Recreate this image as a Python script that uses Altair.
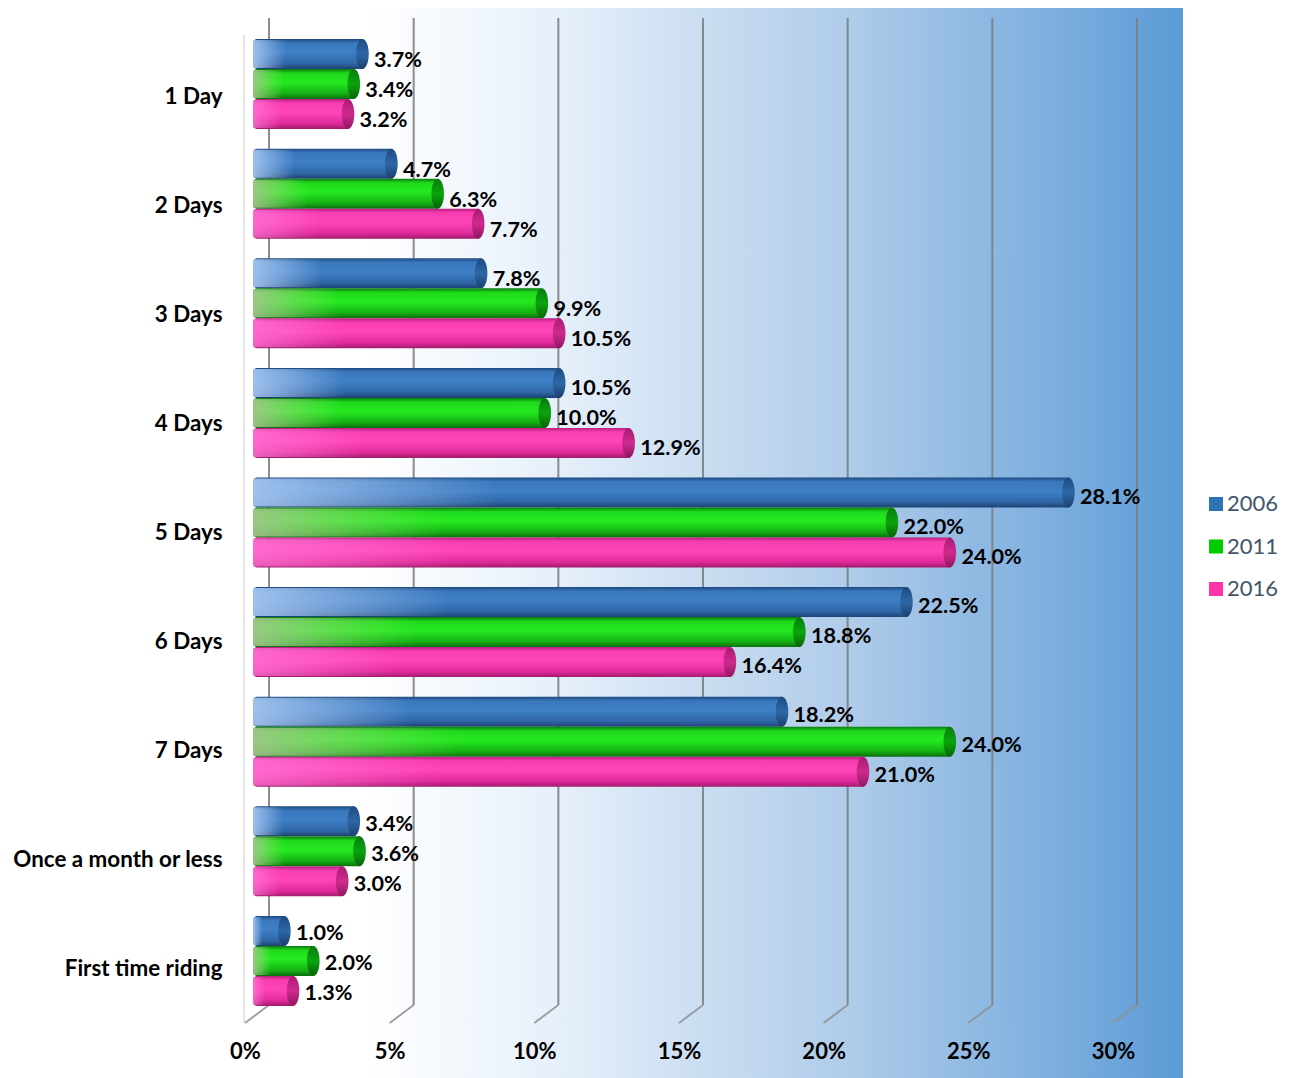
import altair as alt
import pandas as pd

categories = ["1 Day", "2 Days", "3 Days", "4 Days", "5 Days", "6 Days", "7 Days",
              "Once a month or less", "First time riding"]
series = ["2006", "2011", "2016"]
v2006 = [3.7, 4.7, 7.8, 10.5, 28.1, 22.5, 18.2, 3.4, 1.0]
v2011 = [3.4, 6.3, 9.9, 10.0, 22.0, 18.8, 24.0, 3.6, 2.0]
v2016 = [3.2, 7.7, 10.5, 12.9, 24.0, 16.4, 21.0, 3.0, 1.3]
ticks = [0, 5, 10, 15, 20, 25, 30]
legend_colors = ["#2e75b6", "#00cc00", "#ff33aa"]

FONT = "Lato"
DEPTH = 0.83      # perspective shift of the back wall, in axis units
BAR_START = 0.28
CAP_C = 0.36      # cap centre relative to value
LABEL_X = 0.57

rows = []
for s, vals in zip(series, [v2006, v2011, v2016]):
    for c, v in zip(categories, vals):
        rows.append({"cat": c, "series": s, "value": v, "start": BAR_START,
                     "end": v + CAP_C, "lab": v + LABEL_X, "text": f"{v:.1f}%"})
df = pd.DataFrame(rows)
grid = pd.DataFrame({"tick": ticks, "back": [t + DEPTH for t in ticks]})
one = pd.DataFrame({"a": [0]})
cats = pd.DataFrame({"cat": categories})


def lg(stops, horizontal=False):
    return alt.LinearGradient(
        gradient="linear",
        x1=0, y1=0, x2=1 if horizontal else 0, y2=0 if horizontal else 1,
        stops=[alt.GradientStop(offset=o, color=c) for o, c in stops],
    )


PW, PH = 938, 1070
x_scale = alt.Scale(domain=[0, 32.42], nice=False, zero=False)
y_scale = alt.Scale(domain=categories, range=[21.2, 1007.8], paddingInner=0.179, paddingOuter=0.0895)
label_scale = alt.Scale(domain=categories, range=[27.44, 1009.56], paddingInner=0.175, paddingOuter=0.0875)
cat_scale = alt.Scale(domain=categories, range=[33.5, 1014.5], paddingInner=0, paddingOuter=0)
off_scale = alt.Scale(domain=series, paddingInner=0, paddingOuter=0)

x_axis = alt.Axis(values=ticks, labelExpr="datum.value + '%'", title=None, grid=False, ticks=False,
                  domain=False, labelFont=FONT, labelFontWeight="bold", labelFontSize=22,
                  labelColor="#000000", labelPadding=0, labelFlush=False, offset=-37, zindex=2)
y_axis = alt.Axis(title=None, ticks=False, domain=False, labelFont=FONT, labelFontWeight="bold",
                  labelFontSize=22.4, labelColor="#000000", labelPadding=23,
                  labelLimit=300, zindex=2)

bg = alt.Chart(one).mark_rect(
    fill=lg([(0, "#ffffff"), (0.13, "#ffffff"), (0.33, "#e6f0fa"), (0.65, "#aecbe9"),
             (0.85, "#7fb0df"), (1, "#5b9bd5")], True)
).encode(x=alt.value(0), x2=alt.value(PW), y=alt.value(0), y2=alt.value(PH))

left_line = alt.Chart(one).mark_rule(color="#dcdcdc", strokeWidth=1.5).encode(
    x=alt.value(-1), y=alt.value(27), y2=alt.value(1015))

walls = alt.Chart(grid).mark_rule(color="#808080", strokeWidth=2, opacity=0.9).encode(
    x=alt.X("back:Q", scale=x_scale, axis=x_axis), y=alt.value(10), y2=alt.value(997))
floor = alt.Chart(grid).mark_rule(color="#909090", strokeWidth=2, opacity=0.85).encode(
    x=alt.X("tick:Q", scale=x_scale, axis=x_axis), x2="back:Q", y=alt.value(1015), y2=alt.value(997))

styles = {
    "2006": dict(
        body=[(0, "#1d4a80"), (0.14, "#3a78bd"), (0.45, "#3f7fc6"), (0.82, "#2f66a6"), (1, "#1d4272")],
        sheen=[(0, "rgba(175,205,245,0.85)"), (0.3, "rgba(175,205,245,0)")],
        cap=[(0, "#1d4a80"), (0.5, "#2d67a8"), (1, "#1b3f6d")]),
    "2011": dict(
        body=[(0, "#0a7a10"), (0.14, "#1fd81c"), (0.45, "#25ea20"), (0.82, "#14b014"), (1, "#0b6e0e")],
        sheen=[(0, "rgba(175,195,150,0.85)"), (0.3, "rgba(150,235,110,0)")],
        cap=[(0, "#0a7a10"), (0.5, "#0aa50c"), (1, "#086208")]),
    "2016": dict(
        body=[(0, "#b51f7c"), (0.14, "#f93eb2"), (0.45, "#ff45b9"), (0.82, "#e02a9a"), (1, "#a01a6c")],
        sheen=[(0, "rgba(255,120,215,0.7)"), (0.3, "rgba(255,120,215,0)")],
        cap=[(0, "#a81c72"), (0.5, "#cf2a8e"), (1, "#8e175f")]),
}

cap_path = "M0,-1A0.42,1 0 1 1 0,1A0.42,1 0 1 1 0,-1Z"

axis_layer = alt.Chart(cats).mark_text(text="", opacity=0).encode(
    x=alt.value(0),
    y=alt.Y("cat:N", scale=cat_scale, axis=y_axis))

bar_layers = []
for i, s in enumerate(series):
    d = alt.Chart(df).transform_filter(alt.datum.series == s)
    st = styles[s]
    enc = dict(
        x=alt.X("start:Q", scale=x_scale, axis=x_axis), x2="end:Q",
        y=alt.Y("cat:N", scale=y_scale, axis=None),
        yOffset=alt.YOffset("series:N", scale=off_scale),
    )
    bar_layers.append(d.mark_bar(size=30, fill=lg(st["body"]), cornerRadiusTopLeft=4,
                                 cornerRadiusBottomLeft=4).encode(**enc))
    bar_layers.append(d.mark_bar(size=28, fill=lg(st["sheen"], True)).encode(**enc))
    bar_layers.append(d.mark_point(shape=cap_path, size=900, filled=True, fill=lg(st["cap"]),
                                   opacity=1, strokeWidth=0).encode(
        x=alt.X("end:Q", scale=x_scale, axis=x_axis),
        y=alt.Y("cat:N", scale=y_scale, axis=None),
        yOffset=alt.YOffset("series:N", scale=off_scale)))

labels = alt.Chart(df).mark_text(align="left", baseline="middle", dx=5.5, dy=1.5, font=FONT,
                                 fontWeight="bold", fontSize=21.6, color="#000000").encode(
    x=alt.X("lab:Q", scale=x_scale, axis=x_axis),
    y=alt.Y("cat:N", scale=label_scale, axis=None),
    yOffset=alt.YOffset("series:N", scale=off_scale),
    text="text:N")

legend_layer = alt.Chart(df).mark_square(size=0, opacity=1).encode(
    x=alt.X("start:Q", scale=x_scale, axis=x_axis),
    y=alt.Y("cat:N", scale=y_scale, axis=None),
    color=alt.Color("series:N", scale=alt.Scale(domain=series, range=legend_colors),
                    legend=alt.Legend(orient="none", legendX=960, legendY=485, title=None,
                                      symbolType="square", symbolSize=196, symbolStrokeWidth=0,
                                      symbolOpacity=1, labelFont=FONT, labelFontSize=22,
                                      labelColor="#44546a", rowPadding=20.5, labelOffset=0)))

chart = alt.layer(bg, left_line, walls, floor, axis_layer, *bar_layers, labels, legend_layer).resolve_scale(
    y="independent"
).properties(
    width=PW, height=PH,
    autosize=alt.AutoSizeParams(type="none"),
    padding={"left": 237, "top": 0, "right": 98, "bottom": 0},
).configure_view(stroke=None)

chart.save("out.html", embed_options={"renderer": "svg", "actions": False})
